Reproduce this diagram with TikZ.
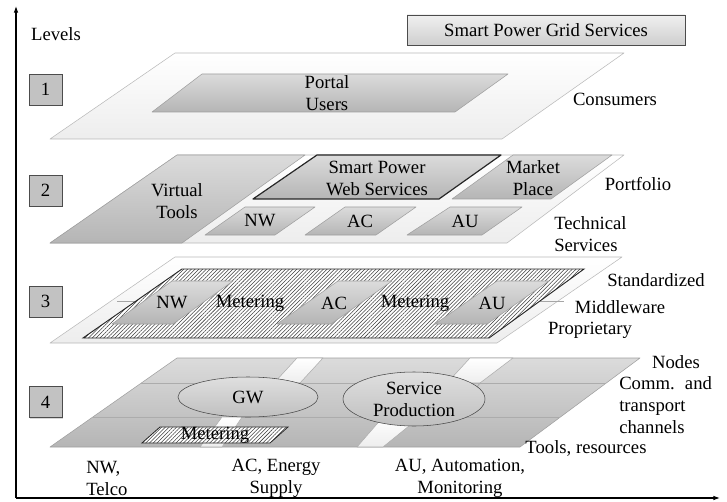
\documentclass[tikz,border=0pt]{standalone}
\usepackage{fontspec}
\setmainfont{Liberation Serif}
\usetikzlibrary{patterns.meta,shadows,arrows.meta,shapes.geometric}
\tikzset{
  lightplane/.style={draw=gray!55, top color=white, bottom color=gray!14, line join=round},
  grayplane/.style={draw=gray!75, top color=gray!28, bottom color=gray!58, line join=round},
  hatch/.style={draw=black!85, line width=0.7pt, preaction={fill=white},
    pattern={Lines[angle=45,distance=2pt,line width=0.4pt]}, pattern color=black!75},
  lvlbox/.style={draw=gray!60!black, fill=gray!48, minimum width=24.75pt, minimum height=23.25pt,
    inner sep=0pt, drop shadow={shadow xshift=1pt, shadow yshift=-1pt, fill=gray!60}},
  lbl/.style={inner sep=0pt, align=center},
  lbll/.style={inner sep=0pt, align=left},
  ell/.style={ellipse, draw=gray!55!black, top color=gray!25, bottom color=gray!50, inner sep=0pt, align=center},
  rowline/.style={draw=gray!65, line width=0.6pt},
  axis/.style={draw=black, line width=0.8pt, -{Latex[length=5pt,width=3.5pt]}}
}
\begin{document}
\begin{tikzpicture}[x=0.75pt,y=-0.75pt, font=\fontsize{14pt}{16.5pt}\selectfont]
\useasboundingbox (0,0) rectangle (727,502);
% axes
\coordinate (O) at (16,498);
\coordinate (Ytop) at (16,6);
\coordinate (Xend) at (720,498);
\draw[axis] (O) -- (Ytop);
\draw[axis] (O) -- (Xend);
\node[lbl] (levels) at (56,34) {Levels};
\node[draw=gray!60!black, top color=gray!12, bottom color=gray!38, minimum width=208.5pt,
  minimum height=22.5pt, inner sep=0pt, drop shadow={shadow xshift=1pt, shadow yshift=-1pt, fill=gray!60}]
  (spgs) at (546,30) {Smart\ Power\ Grid\ Services};
% level boxes
\node[lvlbox] (l1) at (45.5,89.5) {1};
\node[lvlbox] (l2) at (45.5,190.5) {2};
\node[lvlbox] (l3) at (45.5,301.5) {3};
\node[lvlbox] (l4) at (45.5,402) {4};
% ---- Level 1
\path[lightplane] (50,139) -- (175,53) -- (624,53) -- (502,139) -- cycle;
\path[grayplane] (152,112) -- (202,74) -- (508,74) -- (455,112) -- cycle;
\node[lbl] (portal) at (327,93) {Portal\\Users};
\node[lbl] (consumers) at (615,99) {Consumers};
% ---- Level 2
\path[lightplane] (50,243) -- (177,155) -- (624,155) -- (507,243) -- cycle;
\path[grayplane] (50,243) -- (177,155) -- (305,155) -- (182,243) -- cycle;
\path[grayplane, draw=black!85, line width=0.9pt] (253,199) -- (317,155) -- (501,155) -- (439,199) -- cycle;
\path[grayplane] (452,199) -- (513,155) -- (612,155) -- (551,199) -- cycle;
\path[grayplane] (205,235) -- (245,207) -- (315,207) -- (275,235) -- cycle;
\path[grayplane] (305,235) -- (345,207) -- (416,207) -- (376,235) -- cycle;
\path[grayplane] (407,235) -- (450,207) -- (522,207) -- (482,235) -- cycle;
\node[lbl] (vt) at (177,201) {Virtual\\Tools};
\node[lbl] (spws) at (377,178) {Smart Power\\Web Services};
\node[lbl] (mp) at (533,178) {Market\\Place};
\node[lbl] (portfolio) at (638,184) {Portfolio};
\node[lbl] (nw2) at (260,221) {NW};
\node[lbl] (ac2) at (360,221) {AC};
\node[lbl] (au2) at (465,221) {AU};
\node[lbll, anchor=west] (ts) at (554,234) {Technical\\Services};
% ---- Level 3
\path[lightplane] (50,343) -- (175,257) -- (622,257) -- (497,343) -- cycle;
\coordinate (tl1) at (117,301); \coordinate (tl2) at (150,301);
\coordinate (tr1) at (536,301); \coordinate (tr2) at (564,301);
\draw[gray!70] (tl1) -- (tl2);
\draw[gray!70] (tr1) -- (tr2);
\path[hatch] (83,338) -- (182,269) -- (584,269) -- (489,338) -- cycle;
\path[grayplane] (112,324) -- (172,281) -- (233,281) -- (173,324) -- cycle;
\path[grayplane] (277,324) -- (338,281) -- (392,281) -- (331,324) -- cycle;
\path[grayplane] (435,324) -- (497,281) -- (549,281) -- (487,324) -- cycle;
\node[lbl] (nw3) at (172,303) {NW};
\node[lbl] (met3a) at (250,303) {Metering};
\node[lbl] (ac3) at (334,303) {AC};
\node[lbl] (met3b) at (415,303) {Metering};
\node[lbl] (au3) at (492,303) {AU};
\node[lbl] (std) at (656,280) {Standardized};
\node[lbl] (mw) at (620,307) {Middleware};
\node[lbl] (prop) at (590,330) {Proprietary};
% ---- Level 4
\path[grayplane] (50,447) -- (177,358) -- (640,358) -- (520,447) -- cycle;
\draw[rowline] (141,383) -- (606,383);
\draw[rowline] (93,417) -- (560,417);
\path[lightplane, draw=gray!65] (274,383) -- (297,358) -- (323,358) -- (300,383) -- cycle;
\path[lightplane, draw=gray!65] (447,383) -- (470,358) -- (513,358) -- (480,383) -- cycle;
\path[lightplane, draw=gray!65] (200,447) -- (222,417) -- (242,417) -- (222,447) -- cycle;
\path[lightplane, draw=gray!65] (357,447) -- (383,417) -- (420,417) -- (383,447) -- cycle;
\draw[rowline] (480,383) -- (455,417);
\draw[rowline] (300,383) -- (272,417);
\path[hatch, line width=0.6pt] (142,443) -- (160,427) -- (288,427) -- (270,443) -- cycle;
\node[lbl] (met4) at (215,435) {Metering};
\node[ell, minimum width=105pt, minimum height=30pt] (gw) at (248,397) {GW};
\node[ell, minimum width=106.5pt, minimum height=40.5pt] (sp) at (414,399) {Service\\Production};
\node[lbl] (nodes) at (676,362) {Nodes};
\node[lbll, anchor=west] (comm) at (619,405.5) {Comm.\hspace{3pt} and\\transport\\channels};
\node[lbl] (tools) at (586,448) {Tools, resources};
\node[lbll, anchor=west] (nwt) at (86,478.5) {NW,\\Telco};
\node[lbl] (ace) at (276,478.5) {AC, Energy\\Supply};
\node[lbl] (aua) at (460,478.5) {AU, Automation,\\Monitoring};
\end{tikzpicture}
\end{document}
